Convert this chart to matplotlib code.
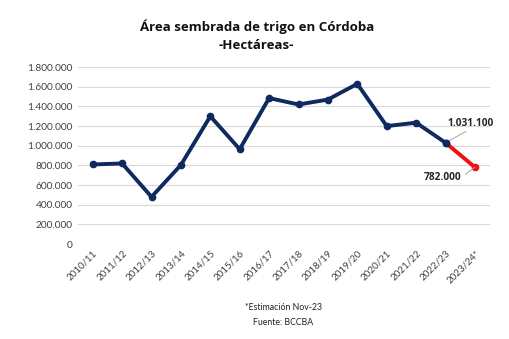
import matplotlib
matplotlib.use("Agg")
import matplotlib.pyplot as plt
from matplotlib.ticker import FuncFormatter

campaigns = ["2010/11", "2011/12", "2012/13", "2013/14", "2014/15", "2015/16",
             "2016/17", "2017/18", "2018/19", "2019/20", "2020/21", "2021/22",
             "2022/23", "2023/24*"]
hectares = [810000, 820000, 480000, 805000, 1300000, 965000, 1485000, 1420000,
            1470000, 1630000, 1200000, 1235000, 1031100, 782000]
yticks = [0, 200000, 400000, 600000, 800000, 1000000, 1200000, 1400000, 1600000, 1800000]

def fmt(v):
    return f"{int(v):,}".replace(",", ".")

navy = "#0E2A5E"
red = "#EE1111"

fig = plt.figure(figsize=(5.10, 3.39), dpi=100)
ax = fig.add_axes([0.153, 0.28, 0.807, 0.522])

x = list(range(len(campaigns)))
ax.plot(x[:-1], hectares[:-1], color=navy, lw=2.8, marker="o", ms=4.5, zorder=3,
        solid_joinstyle="round")
ax.plot(x[-2:], hectares[-2:], color=red, lw=2.8, zorder=2)
ax.plot(x[-1:], hectares[-1:], color=red, marker="o", ms=4.5, lw=0, zorder=3)
ax.plot(x[-2:-1], hectares[-2:-1], color=navy, marker="o", ms=4.5, lw=0, zorder=4)

ax.set_xlim(-0.5, len(campaigns) - 0.5)
ax.set_ylim(0, 1800000)
ax.set_yticks(yticks)
ax.yaxis.set_major_formatter(FuncFormatter(lambda v, p: fmt(v)))
ax.set_xticks(x)
ax.set_xticklabels(campaigns, rotation=45, ha="right", rotation_mode="anchor",
                   fontsize=7, color="#404040", family="Lato")
for lbl in ax.get_yticklabels():
    lbl.set_fontsize(7.3)
    lbl.set_color("#404040")
    lbl.set_family("Lato")
ax.tick_params(axis="both", length=0, pad=4)
ax.tick_params(axis="x", pad=3)
ax.grid(axis="y", color="#D9D9D9", lw=0.8)
ax.set_axisbelow(True)
for s in ax.spines.values():
    s.set_visible(False)

# annotations
ax.annotate(fmt(hectares[-2]), xy=(x[-2], hectares[-2]), xytext=(x[-2] + 0.08, 1230000),
            fontsize=7.3, fontweight="bold", color="#262626", family="Open Sans",
            ha="left", va="center",
            arrowprops=dict(arrowstyle="-", color="#A6A6A6", lw=0.7,
                            shrinkA=0, shrinkB=0, relpos=(0.5, 0)))
ax.annotate(fmt(hectares[-1]), xy=(x[-1], hectares[-1]), xytext=(x[-1] - 0.45, 680000),
            fontsize=7.3, fontweight="bold", color="#262626", family="Open Sans",
            ha="right", va="center",
            arrowprops=dict(arrowstyle="-", color="#A6A6A6", lw=0.7,
                            shrinkA=1, shrinkB=0, relpos=(1, 0.5)))

fig.text(0.505, 0.92, "Área sembrada de trigo en Córdoba", ha="center", va="center",
         fontsize=9.5, fontweight="bold", color="#111111", family="Open Sans")
fig.text(0.502, 0.867, "-Hectáreas-", ha="center", va="center",
         fontsize=9.5, fontweight="bold", color="#111111", family="Open Sans")

fig.text(0.555, 0.094, "*Estimación Nov-23", ha="center", va="center",
         fontsize=6.3, color="#222222", family="Lato")
fig.text(0.555, 0.05, "Fuente: BCCBA", ha="center", va="center",
         fontsize=6.3, color="#222222", family="Lato")

fig.savefig("out.png", dpi=100, facecolor="white")
